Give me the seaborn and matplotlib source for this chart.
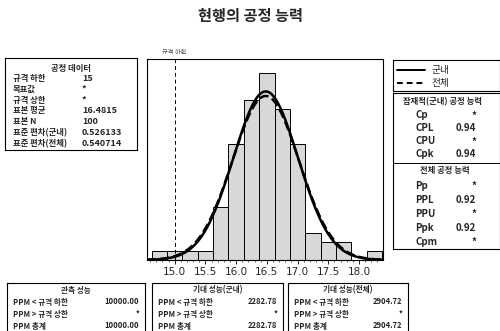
import numpy as np
import pandas as pd
import matplotlib.pyplot as plt
import seaborn as sns

sns.set_style('white')
plt.rcParams['font.family'] = ['Noto Sans CJK KR', 'DejaVu Sans']

# histogram (bin centres, counts)
bin_centers = [14.75, 15.0, 15.25, 15.5, 15.75, 16.0, 16.25, 16.5,
               16.75, 17.0, 17.25, 17.5, 17.75, 18.0, 18.25]
bin_counts = [1, 1, 1, 1, 6, 13, 18, 21, 17, 13, 3, 2, 2, 0, 1]
bin_width = 0.25

lsl = 15.0
sample_mean = 16.4815
sample_n = 100
sd_within = 0.526133
sd_overall = 0.540714

x_ticks = [15.0, 15.5, 16.0, 16.5, 17.0, 17.5, 18.0]

data_labels = ['규격 하한', '목표값', '규격 상한', '표본 평균', '표본 N',
               '표준 편차(군내)', '표준 편차(전체)']
data_values = ['15', '*', '*', '16.4815', '100', '0.526133', '0.540714']

within_labels = ['Cp', 'CPL', 'CPU', 'Cpk']
within_values = ['*', '0.94', '*', '0.94']
overall_labels = ['Pp', 'PPL', 'PPU', 'Ppk', 'Cpm']
overall_values = ['*', '0.92', '*', '0.92', '*']

ppm_labels = ['PPM < 규격 하한', 'PPM > 규격 상한', 'PPM 총계']
ppm_observed = ['10000.00', '*', '10000.00']
ppm_exp_within = ['2282.78', '*', '2282.78']
ppm_exp_overall = ['2904.72', '*', '2904.72']

W, H = 500, 331
fig = plt.figure(figsize=(5, 3.31), dpi=100)


def px_axes(x0, y0, x1, y1):
    return fig.add_axes([x0 / W, 1 - y1 / H, (x1 - x0) / W, (y1 - y0) / H])


def box(x0, y0, x1, y1):
    a = px_axes(x0, y0, x1, y1)
    a.set_xticks([])
    a.set_yticks([])
    a.patch.set_alpha(0)
    for s in a.spines.values():
        s.set_linewidth(0.8)
        s.set_color('black')
    return a


def txt(x, y, s, **kw):
    kw.setdefault('fontsize', 5.5)
    kw.setdefault('va', 'center')
    fig.text(x / W, 1 - y / H, s, **kw)


def hline(x0, x1, y, **kw):
    fig.lines.append(plt.Line2D([x0 / W, x1 / W], [1 - y / H] * 2, color='black',
                                transform=fig.transFigure, **kw))


fig.text(0.5, 1 - 16 / H, '현행의 공정 능력', ha='center', va='center',
         fontsize=11, fontweight='bold')

# main histogram
ax = px_axes(147, 59, 383, 260)
hist_df = pd.DataFrame({'center': bin_centers, 'count': bin_counts})
edges = [c - bin_width / 2 for c in bin_centers] + [bin_centers[-1] + bin_width / 2]
sns.histplot(data=hist_df, x='center', weights='count', bins=edges, color='#d8d8d8',
             edgecolor='black', linewidth=0.7, alpha=1, ax=ax)

xs = np.linspace(14.55, 18.4, 300)
for sd, ls in [(sd_within, '-'), (sd_overall, '--')]:
    ys = sample_n * bin_width * np.exp(-0.5 * ((xs - sample_mean) / sd) ** 2) / (sd * np.sqrt(2 * np.pi))
    ax.plot(xs, ys, color='black', linewidth=1.8, linestyle=ls)

ax.axvline(lsl, color='black', linestyle=(0, (4, 3)), linewidth=0.7)
ax.text(lsl, 22.9, '규격 하한', ha='center', va='bottom', fontsize=4.5, color='#444444')

ax.set_xlim(14.55, 18.39)
ax.set_ylim(0, 22.6)
ax.set_yticks([])
ax.set_ylabel('')
ax.set_xlabel('')
ax.set_xticks(x_ticks)
ax.set_xticklabels([f'{t:.1f}' for t in x_ticks], fontsize=7.5, family='DejaVu Sans')
ax.set_xticks(np.arange(14.6, 18.4, 0.1), minor=True)
ax.tick_params(axis='x', which='major', direction='out', length=3, width=0.7, pad=2, bottom=True)
ax.tick_params(axis='x', which='minor', direction='out', length=1.5, width=0.5, bottom=True)
for s in ax.spines.values():
    s.set_linewidth(0.8)
    s.set_color('black')

# process data box
box(5, 58, 137, 150)
txt(71, 68, '공정 데이터', ha='center', fontweight='bold', fontsize=6)
for i, (lab, val) in enumerate(zip(data_labels, data_values)):
    y = 78.5 + i * 10.8
    txt(13, y, lab, fontweight='bold', fontsize=6)
    txt(82, y, val, fontweight='bold', fontsize=6.5)

# legend box
box(393, 60, 500, 91)
hline(397, 425, 70, linewidth=1.4)
hline(397, 425, 83, linewidth=1.4, linestyle=(0, (3, 2)))
txt(432, 70, '군내', fontsize=7)
txt(432, 83, '전체', fontsize=7)

# capability box
box(393, 93, 500, 249)
txt(442, 102, '잠재적(군내) 공정 능력', ha='center', fontsize=6, fontweight='bold')
for i, (lab, val) in enumerate(zip(within_labels, within_values)):
    y = 115.5 + i * 13
    txt(415, y, lab, fontsize=7, fontweight='bold')
    txt(476, y, val, fontsize=7, fontweight='bold', ha='right')
hline(393, 500, 163, linewidth=0.7)
txt(445, 171, '전체 공정 능력', ha='center', fontsize=6, fontweight='bold')
for i, (lab, val) in enumerate(zip(overall_labels, overall_values)):
    y = 186 + i * 14
    txt(415, y, lab, fontsize=7, fontweight='bold')
    txt(476, y, val, fontsize=7, fontweight='bold', ha='right')

# ppm boxes
for (x0, x1, title, vals) in [(7, 145, '관측 성능', ppm_observed),
                              (152, 283, '기대 성능(군내)', ppm_exp_within),
                              (288, 408, '기대 성능(전체)', ppm_exp_overall)]:
    box(x0, 283, x1, 340)
    txt((x0 + x1) / 2, 290, title, ha='center', fontweight='bold')
    for i, (lab, val) in enumerate(zip(ppm_labels, vals)):
        y = 302 + i * 12
        txt(x0 + 6, y, lab, fontweight='bold')
        txt(x1 - 6, y, val, fontweight='bold', ha='right')

fig.savefig('out.png', dpi=100)
